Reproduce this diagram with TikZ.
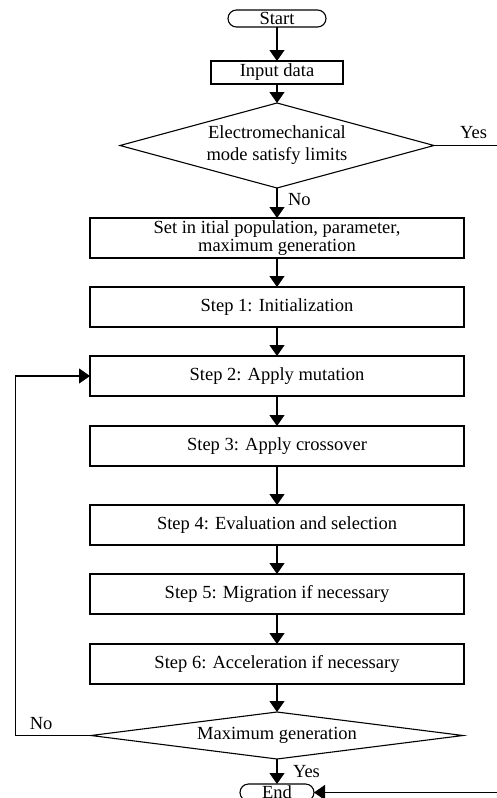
\documentclass[tikz,border=0pt]{standalone}
\usepackage{fontspec}
\setmainfont{Liberation Serif}
\usetikzlibrary{arrows.meta,positioning,calc,shapes.geometric}

\begin{document}
\begin{tikzpicture}[x=1pt, y=-1pt, >={Triangle[length=11pt,width=15pt]}, line width=1.1pt,
  every node/.style={font=\fontsize{18.5}{22}\selectfont, outer sep=0pt},
  box/.style={draw, minimum width=374pt, minimum height=40pt, inner sep=0pt},
  term/.style={draw, rounded corners=8.5pt, minimum height=17pt, inner sep=0pt},
  cond/.style={draw, diamond, inner sep=0pt},
  lbl/.style={inner sep=0pt}]
\useasboundingbox (0,0) rectangle (496,798);
\coordinate (lft) at (15.5,0);
\coordinate (rgt) at (500,0);

\node[term, minimum width=98pt] (start) at (277,18.5) {Start};
\node[draw, minimum width=132pt, minimum height=23pt, inner sep=0pt, below=34pt of start] (inp) {Input data};
\node[cond, aspect=3.69, minimum width=314pt, minimum height=85pt, align=center, below=19pt of inp] (chk) {Electromechanical\\mode satisfy limits};
\node[box, align=center, font=\fontsize{18.5}{15}\selectfont, below=30pt of chk] (init) {Set in itial population, parameter,\\maximum generation};
\node[box, below=29pt of init] (s1) {Step 1: Initialization};
\node[box, below=29pt of s1] (s2) {Step 2: Apply mutation};
\node[box, below=30pt of s2] (s3) {Step 3: Apply crossover};
\node[box, below=39pt of s3] (s4) {Step 4: Evaluation and selection};
\node[box, below=29pt of s4] (s5) {Step 5: Migration if necessary};
\node[box, below=30pt of s5] (s6) {Step 6: Acceleration if necessary};
\node[cond, aspect=7.9, minimum width=372pt, minimum height=47pt, below=28pt of s6] (maxg) {Maximum generation};
\node[term, minimum width=74pt, below=25pt of maxg] (stop) {End};

\draw[->] (start) -- (inp);
\draw[->] (inp) -- (chk);
\draw[->] (chk) -- node[lbl, right=11pt, pos=0.37] {No} (init);
\draw[->] (init) -- (s1);
\draw[->] (s1) -- (s2);
\draw[->] (s2) -- (s3);
\draw[->] (s3) -- (s4);
\draw[->] (s4) -- (s5);
\draw[->] (s5) -- (s6);
\draw[->] (s6) -- (maxg);
\draw[->] (maxg) -- node[lbl, right=16pt, pos=0.52] {Yes} (stop);
% loop back and yes branch
\draw[->] (maxg.west) -- node[lbl, above=6pt, pos=0.66] {No} (maxg.west -| lft) |- (s2.west);
\draw[->] (chk.east) -- node[lbl, above=7pt, pos=0.6] {Yes} (chk.east -| rgt) |- (stop.east);
\end{tikzpicture}
\end{document}
